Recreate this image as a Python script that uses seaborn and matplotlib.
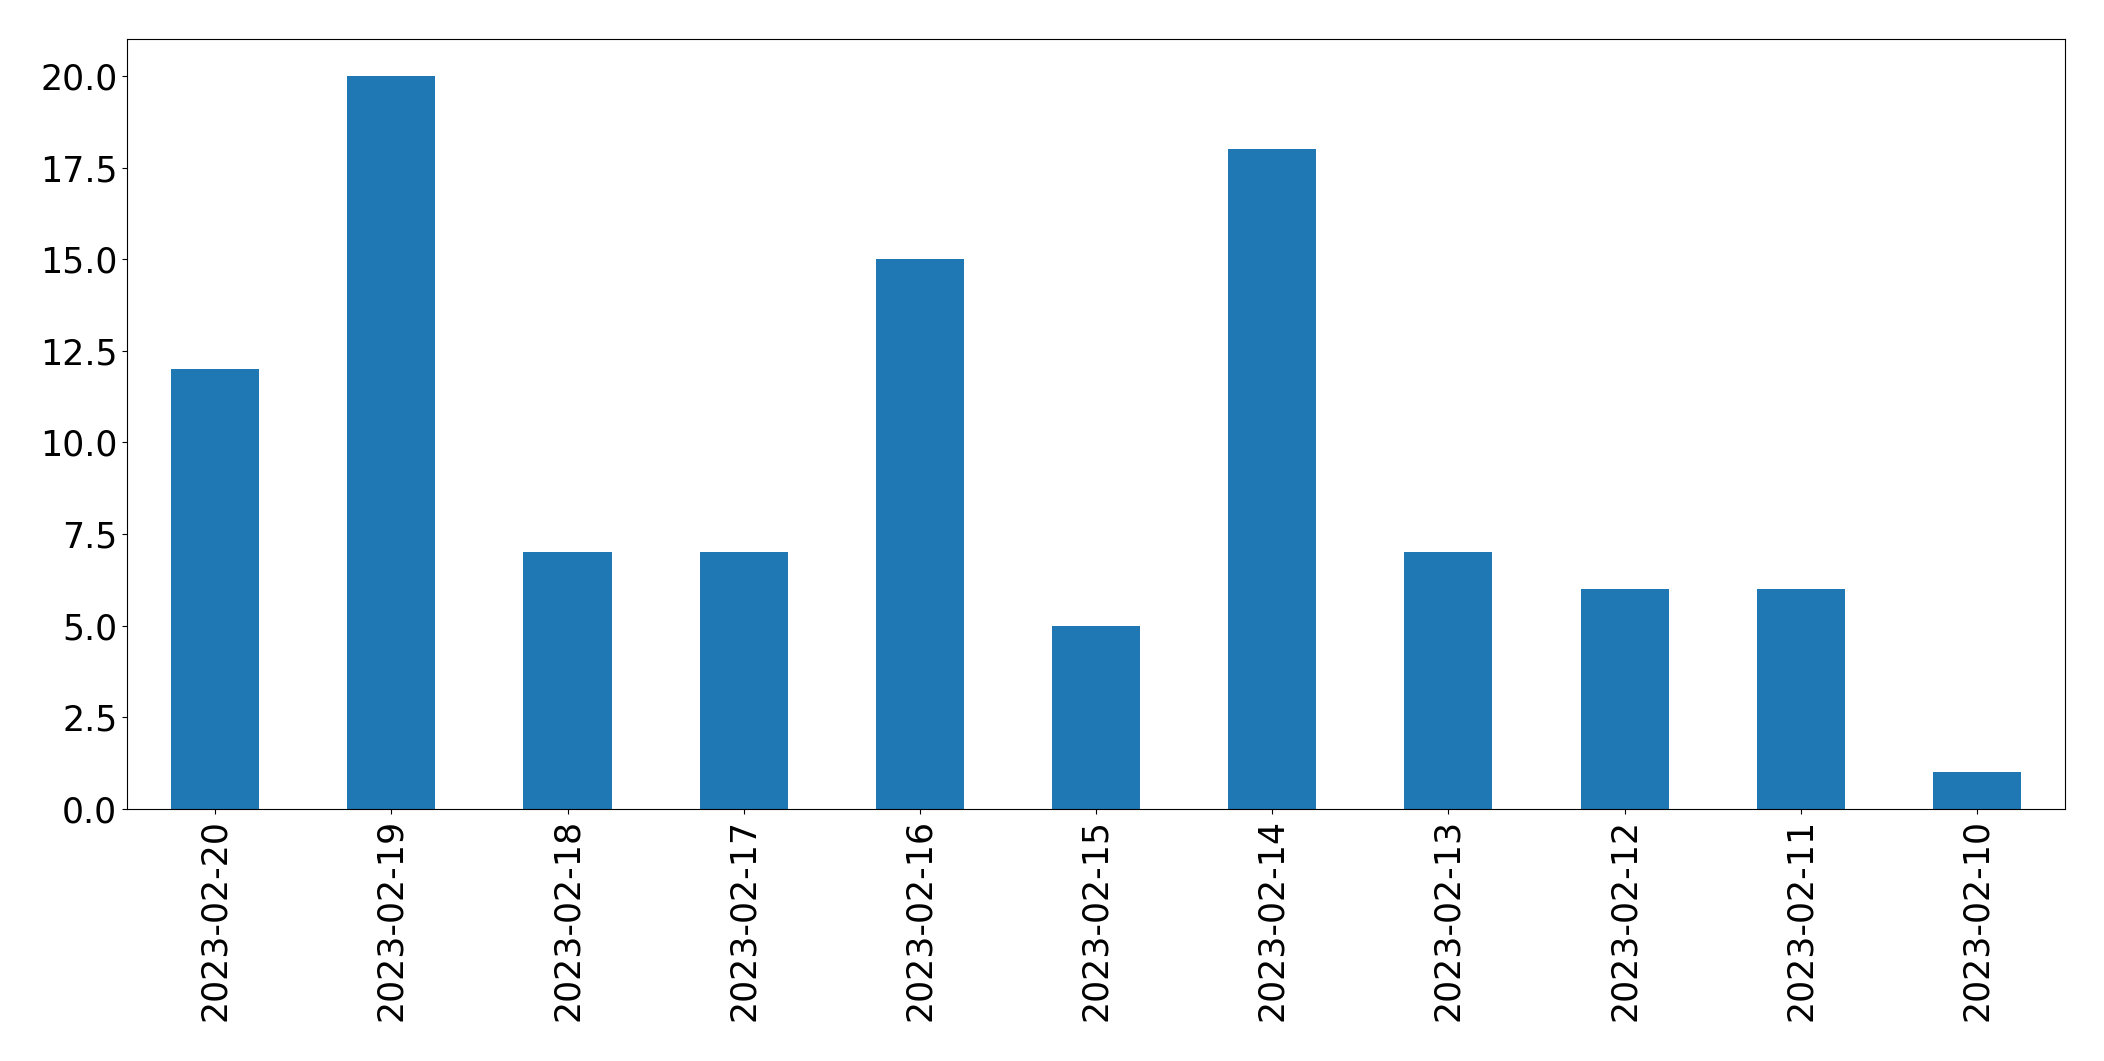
import matplotlib
matplotlib.use("Agg")
import pandas as pd
import seaborn as sns
import matplotlib.pyplot as plt

# daily counts, in the order they appear on the chart
dates = ["2023-02-20", "2023-02-19", "2023-02-18", "2023-02-17", "2023-02-16",
         "2023-02-15", "2023-02-14", "2023-02-13", "2023-02-12", "2023-02-11",
         "2023-02-10"]
counts = [12, 20, 7, 7, 15, 5, 18, 7, 6, 6, 1]

df = pd.DataFrame({"date": dates, "count": counts})

fig, ax = plt.subplots(figsize=(21.04, 10.61), dpi=100)
fig.subplots_adjust(left=0.0604, right=0.9815, top=0.963, bottom=0.2375)

sns.barplot(data=df, x="date", y="count", order=dates, color="#1f77b4",
            saturation=1, width=0.5, linewidth=0, ax=ax)

ax.set_xlim(-0.5, len(dates) - 0.5)
ax.set_ylim(0, 21)
ax.set_xlabel("")
ax.set_ylabel("")
ax.tick_params(axis="both", labelsize=25)
ax.tick_params(axis="x", labelrotation=90)

plt.savefig("out.png", dpi=100)
